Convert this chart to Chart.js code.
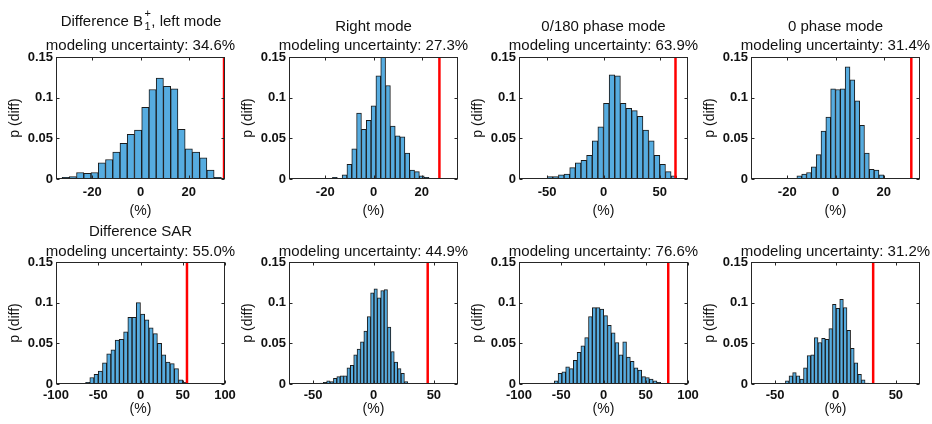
<!DOCTYPE html>
<html>
<head>
<meta charset="utf-8">
<script src="https://cdn.jsdelivr.net/npm/chart.js@4.4.1/dist/chart.umd.min.js"></script>
<style>
  html, body { margin: 0; padding: 0; background: #fff; }
  #wrap { position: relative; width: 932px; height: 424px; overflow: hidden; background: #fff; }
  #wrap canvas { position: absolute; }
</style>
</head>
<body>
<div id="wrap"></div>
<script>
// bin centres (%) and p(diff)
const binsB1Left = [-31, -28, -25, -22, -19, -16, -13, -10, -7, -4, -1, 2, 5, 8, 11, 14, 17, 20, 23, 26, 29, 32];
const probB1Left = [0.002, 0.003, 0.008, 0.007, 0.008, 0.020, 0.024, 0.033, 0.044, 0.055, 0.060, 0.088, 0.110, 0.124, 0.114, 0.111, 0.061, 0.037, 0.033, 0.026, 0.011, 0.002];

const binsB1Right = [-18, -16, -14, -12, -10, -8, -6, -4, -2, 0, 2, 4, 6, 8, 10, 12, 14, 16, 18, 20, 22];
const probB1Right = [0.0005, 0.002, 0.0008, 0.005, 0.018, 0.037, 0.081, 0.061, 0.072, 0.090, 0.127, 0.152, 0.115, 0.065, 0.053, 0.052, 0.032, 0.011, 0.009, 0.004, 0.002];

const binsB1Phase180 = [-47.5, -42.5, -37.5, -32.5, -27.5, -22.5, -17.5, -12.5, -7.5, -2.5, 2.5, 7.5, 12.5, 17.5, 22.5, 27.5, 32.5, 37.5, 42.5, 47.5, 52.5, 57.5, 62.5];
const probB1Phase180 = [0.003, 0.003, 0.005, 0.006, 0.014, 0.020, 0.023, 0.029, 0.047, 0.064, 0.093, 0.128, 0.127, 0.093, 0.087, 0.084, 0.077, 0.060, 0.047, 0.029, 0.018, 0.009, 0.004];

const binsB1Phase0 = [-19, -17, -15, -13, -11, -9, -7, -5, -3, -1, 1, 3, 5, 7, 9, 11, 13, 15, 17, 19];
const probB1Phase0 = [0.0006, 0.0008, 0.004, 0.006, 0.008, 0.015, 0.030, 0.059, 0.076, 0.111, 0.110, 0.111, 0.138, 0.122, 0.096, 0.066, 0.032, 0.012, 0.011, 0.005];

const binsSarLeft = [-62.5, -57.5, -52.5, -47.5, -42.5, -37.5, -32.5, -27.5, -22.5, -17.5, -12.5, -7.5, -2.5, 2.5, 7.5, 12.5, 17.5, 22.5, 27.5, 32.5, 37.5, 42.5, 47.5, 52.5];
const probSarLeft = [0.002, 0.008, 0.012, 0.016, 0.026, 0.037, 0.042, 0.054, 0.055, 0.064, 0.082, 0.082, 0.100, 0.086, 0.079, 0.069, 0.062, 0.050, 0.036, 0.027, 0.025, 0.019, 0.005, 0.002];

const binsSarRight = [-43.0, -40.2, -37.4, -34.6, -31.8, -29.0, -26.2, -23.4, -20.6, -17.8, -15.0, -12.2, -9.4, -6.6, -3.8, -1.0, 1.8, 4.6, 7.4, 10.2, 13.0, 15.8, 18.6, 21.4, 24.2, 27.0];
const probSarRight = [0.001, 0.002, 0.004, 0.003, 0.007, 0.009, 0.010, 0.010, 0.020, 0.023, 0.036, 0.043, 0.052, 0.065, 0.083, 0.112, 0.117, 0.106, 0.115, 0.116, 0.070, 0.040, 0.027, 0.019, 0.013, 0.003];

const binsSarPhase180 = [-69.5, -65, -60.5, -56, -51.5, -47, -42.5, -38, -33.5, -29, -24.5, -20, -15.5, -11, -6.5, -2, 2.5, 7, 11.5, 16, 20.5, 25, 29.5, 34, 38.5, 43, 47.5, 52, 56.5, 61, 65.5];
const probSarPhase180 = [0.0005, 0.0005, 0.001, 0.004, 0.013, 0.015, 0.021, 0.019, 0.029, 0.039, 0.047, 0.057, 0.083, 0.094, 0.094, 0.092, 0.084, 0.072, 0.063, 0.051, 0.036, 0.052, 0.033, 0.028, 0.020, 0.017, 0.009, 0.008, 0.006, 0.004, 0.002];

const binsSarPhase0 = [-40, -37, -34, -31, -28, -25, -22, -19, -16, -13, -10, -7, -4, -1, 2, 5, 8, 11, 14, 17, 20, 23, 26];
const probSarPhase0 = [0.004, 0.010, 0.014, 0.010, 0.006, 0.020, 0.035, 0.036, 0.057, 0.051, 0.056, 0.055, 0.068, 0.098, 0.093, 0.104, 0.094, 0.066, 0.044, 0.026, 0.012, 0.005, 0.001];

// modeling uncertainty (%) = red line position
const uncertainty = [34.6, 27.3, 63.9, 31.4, 55.0, 44.9, 76.6, 31.2];
const headings = [['Difference B', '+', '1', ', left mode'], 'Right mode', '0/180 phase mode', '0 phase mode', 'Difference SAR', null, null, null];

// tick labels
const yTicks = [0, 0.05, 0.1, 0.15];
const xTicksNarrow = [-20, 0, 20];
const xTicksMid = [-50, 0, 50];
const xTicksWide = [-100, -50, 0, 50, 100];

const FONT = '"Liberation Sans", Arial, Helvetica, sans-serif';
Chart.defaults.font.family = FONT;

const panels = [
  { bins: binsB1Left, prob: probB1Left, xr: 35, xt: xTicksNarrow },
  { bins: binsB1Right, prob: probB1Right, xr: 35, xt: xTicksNarrow },
  { bins: binsB1Phase180, prob: probB1Phase180, xr: 75, xt: xTicksMid },
  { bins: binsB1Phase0, prob: probB1Phase0, xr: 35, xt: xTicksNarrow },
  { bins: binsSarLeft, prob: probSarLeft, xr: 100, xt: xTicksWide },
  { bins: binsSarRight, prob: probSarRight, xr: 70, xt: xTicksMid },
  { bins: binsSarPhase180, prob: probSarPhase180, xr: 100, xt: xTicksWide },
  { bins: binsSarPhase0, prob: probSarPhase0, xr: 70, xt: xTicksMid }
];

// layout of the 2x4 grid
const plotLefts = [56, 289, 519, 751];
const rows = [
  { top: 0, h: 220, padTop: 57, axisH: 41, tickPad: 6, headY: 31, headYSpecial: 26, uncY: 50 },
  { top: 212, h: 206, padTop: 50, axisH: 34, tickPad: 4, headY: 236, headYSpecial: 236, uncY: 256 }
];

const headingPlugin = {
  id: 'heading',
  afterDraw(chart, args, opts) {
    const { ctx, chartArea } = chart;
    const cx = (chartArea.left + chartArea.right) / 2;
    const big = '15px ' + FONT, small = '11px ' + FONT;
    ctx.save();
    ctx.fillStyle = '#111';
    ctx.textBaseline = 'alphabetic';
    opts.lines.forEach(line => {
      ctx.font = big;
      if (Array.isArray(line.text)) {
        const [pre, sup, sub, post] = line.text;
        const w1 = ctx.measureText(pre).width;
        const w3 = ctx.measureText(post).width;
        ctx.font = small;
        const wSup = ctx.measureText(sup).width, wSub = ctx.measureText(sub).width;
        const w2 = Math.max(wSup, wSub) + 1;
        let x = cx - (w1 + w2 + w3) / 2;
        ctx.textAlign = 'left';
        ctx.font = big;
        ctx.fillText(pre, x, line.y);
        x += w1 + 1;
        ctx.font = small;
        ctx.fillText(sup, x + (w2 - wSup) / 2, line.y - 9);
        ctx.fillText(sub, x + (w2 - wSub) / 2, line.y + 4);
        x += w2;
        ctx.font = big;
        ctx.fillText(post, x, line.y);
      } else {
        ctx.textAlign = 'center';
        ctx.fillText(line.text, cx, line.y);
      }
    });
    ctx.restore();
  }
};

// axes box with small inward tick marks, MATLAB style
const boxPlugin = {
  id: 'box',
  afterDatasetsDraw(chart) {
    const { ctx, chartArea: a, scales: { x, y } } = chart;
    const L = Math.round(a.left) + 0.5, R = Math.round(a.right) - 0.5;
    const T = Math.round(a.top) + 0.5, B = Math.round(a.bottom) - 0.5;
    ctx.save();
    ctx.strokeStyle = '#262626';
    ctx.lineWidth = 1;
    ctx.strokeRect(L, T, R - L, B - T);
    ctx.beginPath();
    x.ticks.forEach(t => {
      const px = Math.round(x.getPixelForValue(t.value)) + 0.5;
      ctx.moveTo(px, B); ctx.lineTo(px, B - 3);
      ctx.moveTo(px, T); ctx.lineTo(px, T + 3);
    });
    y.ticks.forEach(t => {
      const py = Math.round(y.getPixelForValue(t.value)) + 0.5;
      ctx.moveTo(L, py); ctx.lineTo(L + 3, py);
      ctx.moveTo(R, py); ctx.lineTo(R - 3, py);
    });
    ctx.stroke();
    ctx.restore();
  }
};

const wrap = document.getElementById('wrap');

panels.forEach((p, i) => {
  const row = rows[Math.floor(i / 4)];
  const col = i % 4;
  const canvas = document.createElement('canvas');
  canvas.width = 265;
  canvas.height = row.h;
  canvas.style.left = (plotLefts[col] - 56) + 'px';
  canvas.style.top = row.top + 'px';
  wrap.appendChild(canvas);

  const lines = [];
  const head = headings[i];
  if (head) {
    lines.push({ text: head, y: (Array.isArray(head) ? row.headYSpecial : row.headY) - row.top });
  }
  lines.push({ text: 'modeling uncertainty: ' + uncertainty[i].toFixed(1) + '%', y: row.uncY - row.top });

  new Chart(canvas, {
    type: 'bar',
    data: {
      datasets: [
        {
          type: 'line',
          order: 0,
          data: [{ x: uncertainty[i], y: 0 }, { x: uncertainty[i], y: yTicks[yTicks.length - 1] }],
          borderColor: '#ff0000',
          borderWidth: 2.5,
          pointRadius: 0,
          clip: 0
        },
        {
          type: 'bar',
          order: 1,
          data: p.bins.map((b, k) => ({ x: b, y: p.prob[k] })),
          backgroundColor: 'rgb(86,172,224)',
          borderColor: '#1a1a1a',
          borderWidth: 1,
          barPercentage: 1,
          categoryPercentage: 1,
          grouped: false,
          clip: 0
        }
      ]
    },
    options: {
      responsive: false,
      animation: false,
      devicePixelRatio: 1,
      layout: { padding: { left: 0, right: 40, top: row.padTop, bottom: 0 } },
      plugins: {
        legend: { display: false },
        tooltip: { enabled: false },
        heading: { lines: lines }
      },
      scales: {
        x: {
          type: 'linear',
          min: -p.xr,
          max: p.xr,
          offset: false,
          grid: { display: false, drawTicks: false, offset: false },
          border: { display: false },
          afterBuildTicks: s => { s.ticks = p.xt.map(v => ({ value: v })); },
          afterFit: s => { s.height = row.axisH; },
          ticks: {
            autoSkip: false,
            maxRotation: 0,
            padding: row.tickPad,
            color: '#111',
            font: { size: 13, weight: 'bold' },
            callback: v => String(v)
          },
          title: { display: true, text: '(%)', color: '#111', font: { size: 14 }, padding: { top: 0, bottom: 0 } }
        },
        y: {
          min: 0,
          max: 0.15,
          grid: { display: false, drawTicks: false },
          border: { display: false },
          afterBuildTicks: s => { s.ticks = yTicks.map(v => ({ value: v })); },
          afterFit: s => { s.width = 56; },
          ticks: {
            padding: 3,
            color: '#111',
            font: { size: 13, weight: 'bold' },
            callback: v => String(v)
          },
          title: { display: true, text: 'p (diff)', color: '#111', font: { size: 14 }, padding: { top: 7, bottom: 0 } }
        }
      }
    },
    plugins: [headingPlugin, boxPlugin]
  });
});
</script>
</body>
</html>
